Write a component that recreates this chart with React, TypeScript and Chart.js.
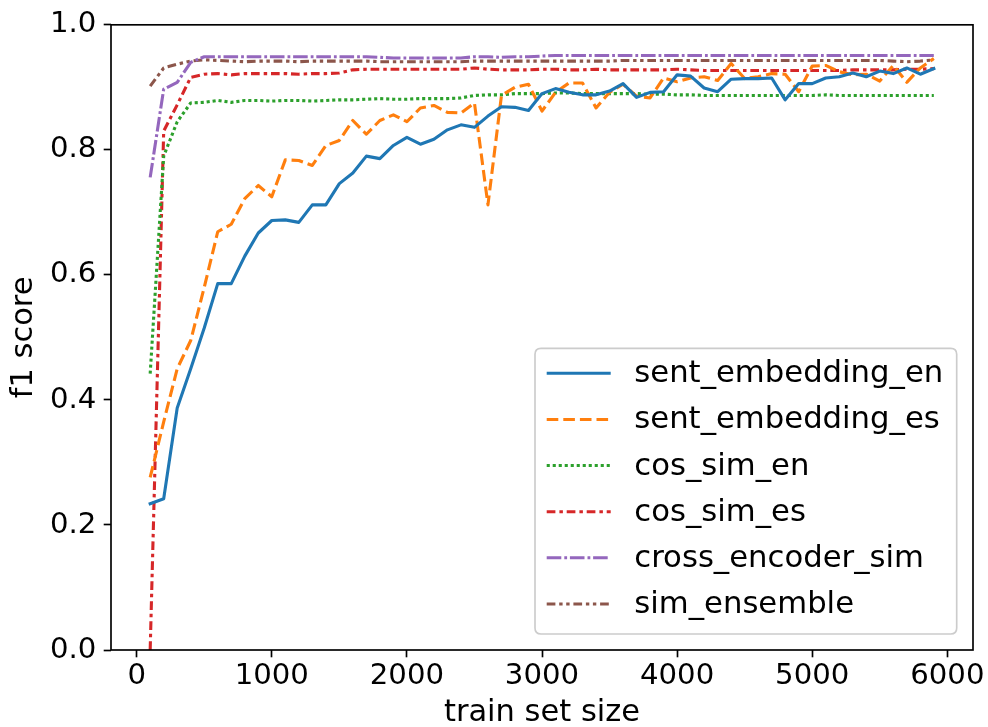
import React, { useEffect, useRef } from "react";
import { Chart, registerables } from "chart.js";

Chart.register(...registerables);

// ---- data ----
const X_VALUES = [
  100, 200, 300, 400, 500, 600, 700, 800, 900, 1000,
  1100, 1200, 1300, 1400, 1500, 1600, 1700, 1800, 1900, 2000,
  2100, 2200, 2300, 2400, 2500, 2600, 2700, 2800, 2900, 3000,
  3100, 3200, 3300, 3400, 3500, 3600, 3700, 3800, 3900, 4000,
  4100, 4200, 4300, 4400, 4500, 4600, 4700, 4800, 4900, 5000,
  5100, 5200, 5300, 5400, 5500, 5600, 5700, 5800, 5900,
];

const SENT_EMBEDDING_EN = [
  0.234, 0.242, 0.387, 0.450, 0.515, 0.586, 0.586, 0.630, 0.667, 0.687,
  0.688, 0.684, 0.712, 0.712, 0.746, 0.763, 0.790, 0.786, 0.807, 0.820,
  0.809, 0.817, 0.832, 0.840, 0.836, 0.854, 0.869, 0.868, 0.863, 0.890,
  0.898, 0.892, 0.888, 0.888, 0.894, 0.906, 0.884, 0.892, 0.893, 0.920,
  0.918, 0.899, 0.893, 0.913, 0.914, 0.914, 0.915, 0.880, 0.906, 0.906,
  0.915, 0.917, 0.923, 0.917, 0.926, 0.922, 0.931, 0.921, 0.930,
];

const SENT_EMBEDDING_ES = [
  0.276, 0.365, 0.450, 0.495, 0.580, 0.669, 0.681, 0.722, 0.743, 0.725,
  0.784, 0.783, 0.775, 0.807, 0.815, 0.847, 0.825, 0.847, 0.856, 0.845,
  0.867, 0.871, 0.860, 0.859, 0.875, 0.712, 0.887, 0.900, 0.905, 0.862,
  0.892, 0.907, 0.907, 0.867, 0.892, 0.905, 0.886, 0.883, 0.915, 0.909,
  0.915, 0.917, 0.911, 0.938, 0.914, 0.917, 0.922, 0.921, 0.893, 0.934,
  0.935, 0.925, 0.920, 0.921, 0.910, 0.935, 0.908, 0.931, 0.946,
];

const COS_SIM_EN = [
  0.442, 0.790, 0.845, 0.875, 0.876, 0.879, 0.876, 0.879, 0.879, 0.878,
  0.879, 0.879, 0.878, 0.879, 0.880, 0.880, 0.881, 0.882, 0.881, 0.881,
  0.882, 0.882, 0.882, 0.883, 0.887, 0.888, 0.888, 0.890, 0.890, 0.890,
  0.891, 0.891, 0.890, 0.890, 0.890, 0.890, 0.890, 0.889, 0.889, 0.888,
  0.888, 0.887, 0.887, 0.887, 0.887, 0.887, 0.887, 0.887, 0.887, 0.887,
  0.888, 0.887, 0.887, 0.887, 0.887, 0.887, 0.887, 0.887, 0.887,
];

const COS_SIM_ES = [
  0.000, 0.830, 0.872, 0.916, 0.921, 0.922, 0.920, 0.922, 0.922, 0.922,
  0.922, 0.921, 0.922, 0.922, 0.923, 0.928, 0.929, 0.929, 0.929, 0.929,
  0.929, 0.929, 0.929, 0.929, 0.931, 0.929, 0.928, 0.928, 0.928, 0.929,
  0.929, 0.928, 0.928, 0.929, 0.928, 0.928, 0.928, 0.928, 0.928, 0.929,
  0.928, 0.927, 0.927, 0.927, 0.927, 0.927, 0.927, 0.927, 0.927, 0.927,
  0.927, 0.927, 0.928, 0.928, 0.928, 0.928, 0.929, 0.929, 0.930,
];

const CROSS_ENCODER_SIM = [
  0.756, 0.897, 0.908, 0.940, 0.949, 0.949, 0.949, 0.949, 0.949, 0.949,
  0.949, 0.949, 0.949, 0.949, 0.949, 0.949, 0.949, 0.948, 0.947, 0.947,
  0.947, 0.947, 0.947, 0.947, 0.949, 0.949, 0.948, 0.949, 0.949, 0.950,
  0.951, 0.951, 0.951, 0.951, 0.951, 0.951, 0.951, 0.951, 0.951, 0.951,
  0.951, 0.951, 0.951, 0.951, 0.951, 0.951, 0.951, 0.951, 0.951, 0.951,
  0.951, 0.951, 0.951, 0.951, 0.951, 0.951, 0.951, 0.951, 0.951,
];

const SIM_ENSEMBLE = [
  0.902, 0.931, 0.937, 0.942, 0.944, 0.943, 0.942, 0.941, 0.942, 0.942,
  0.942, 0.941, 0.942, 0.942, 0.942, 0.942, 0.942, 0.941, 0.941, 0.941,
  0.941, 0.941, 0.941, 0.941, 0.942, 0.942, 0.942, 0.942, 0.942, 0.942,
  0.942, 0.942, 0.942, 0.942, 0.942, 0.943, 0.943, 0.943, 0.943, 0.943,
  0.943, 0.943, 0.943, 0.943, 0.943, 0.943, 0.943, 0.943, 0.943, 0.943,
  0.943, 0.943, 0.943, 0.943, 0.943, 0.942, 0.941, 0.942, 0.944,
];

const SERIES_NAMES = [
  "sent_embedding_en",
  "sent_embedding_es",
  "cos_sim_en",
  "cos_sim_es",
  "cross_encoder_sim",
  "sim_ensemble",
];

const X_TICKS = [0, 1000, 2000, 3000, 4000, 5000, 6000];
const Y_TICKS = [0.0, 0.2, 0.4, 0.6, 0.8, 1.0];
const X_TITLE = "train set size";
const Y_TITLE = "f1 score";

const FONT = "'DejaVu Sans', 'Liberation Sans', sans-serif";

export default function App() {
  const ref = useRef<HTMLCanvasElement | null>(null);

  useEffect(() => {
    if (!ref.current) return;
    const seriesValues = [
      SENT_EMBEDDING_EN,
      SENT_EMBEDDING_ES,
      COS_SIM_EN,
      COS_SIM_ES,
      CROSS_ENCODER_SIM,
      SIM_ENSEMBLE,
    ];
    const colors = ["#1f77b4", "#ff7f0e", "#2ca02c", "#d62728", "#9467bd", "#8c564b"];
    const dashes: number[][] = [
      [],
      [11.6, 5],
      [3.1, 2.9],
      [8.7, 4, 3.5, 3.8],
      [14.6, 3, 2.8, 2.8],
      [8.7, 3.8, 3.4, 3.6, 3.4, 3.8],
    ];

    const datasets = seriesValues.map((vals, i) => ({
      label: SERIES_NAMES[i],
      data: vals.map((v, j) => ({ x: X_VALUES[j], y: v })),
      borderColor: colors[i],
      backgroundColor: colors[i],
      borderWidth: 3.1,
      borderDash: dashes[i],
      borderCapStyle: i === 0 ? "square" : "butt",
      borderJoinStyle: "round",
      pointRadius: 0,
      tension: 0,
      fill: false,
      clip: 0,
    }));

    const framePlugin = {
      id: "mplFrame",
      afterDatasetsDraw(chart: any) {
        const { ctx, chartArea } = chart;
        ctx.save();
        ctx.strokeStyle = "#000";
        ctx.lineWidth = 1.67;
        ctx.setLineDash([]);
        ctx.strokeRect(
          chartArea.left,
          chartArea.top,
          chartArea.right - chartArea.left,
          chartArea.bottom - chartArea.top
        );
        ctx.restore();
      },
    };

    const legendPlugin = {
      id: "mplLegend",
      afterDraw(chart: any) {
        const { ctx, chartArea } = chart;
        const w = 421.7;
        const h = 285.7;
        const right = chartArea.right - 16.3;
        const bottom = chartArea.bottom - 16;
        const left = right - w;
        const top = bottom - h;
        const r = 6;
        ctx.save();
        ctx.beginPath();
        ctx.moveTo(left + r, top);
        ctx.lineTo(right - r, top);
        ctx.quadraticCurveTo(right, top, right, top + r);
        ctx.lineTo(right, bottom - r);
        ctx.quadraticCurveTo(right, bottom, right - r, bottom);
        ctx.lineTo(left + r, bottom);
        ctx.quadraticCurveTo(left, bottom, left, bottom - r);
        ctx.lineTo(left, top + r);
        ctx.quadraticCurveTo(left, top, left + r, top);
        ctx.closePath();
        ctx.fillStyle = "rgba(255,255,255,0.8)";
        ctx.fill();
        ctx.strokeStyle = "#cccccc";
        ctx.lineWidth = 1.67;
        ctx.stroke();

        chart.data.datasets.forEach((ds: any, i: number) => {
          const y = top + 25 + i * 46.13;
          ctx.beginPath();
          ctx.setLineDash(ds.borderDash || []);
          ctx.lineCap = "butt";
          ctx.strokeStyle = ds.borderColor;
          ctx.lineWidth = ds.borderWidth;
          ctx.moveTo(left + 11.7, y);
          ctx.lineTo(left + 75.7, y);
          ctx.stroke();
          ctx.setLineDash([]);
          ctx.fillStyle = "#000";
          ctx.font = `30.7px ${FONT}`;
          ctx.textBaseline = "middle";
          ctx.textAlign = "left";
          ctx.fillText(ds.label, left + 99.3, y + 1);
        });
        ctx.restore();
      },
    };

    const chart = new Chart(ref.current, {
      type: "line",
      data: { datasets: datasets as any },
      options: {
        animation: false,
        responsive: false,
        devicePixelRatio: 1,
        layout: { padding: { left: 0, right: 15, top: 20, bottom: 0 } },
        plugins: {
          legend: { display: false },
          tooltip: { enabled: false },
        },
        scales: {
          x: {
            type: "linear",
            min: -190,
            max: 6190,
            afterBuildTicks: (s: any) => {
              s.ticks = X_TICKS.map((v) => ({ value: v }));
            },
            afterFit: (s: any) => {
              s.height = 77;
            },
            grid: {
              display: true,
              drawOnChartArea: false,
              drawTicks: true,
              tickLength: 7.3,
              tickWidth: 1.67,
              tickColor: "#000",
              color: "#000",
            },
            border: { display: false },
            ticks: {
              color: "#000",
              font: { family: FONT, size: 29.2, lineHeight: 1.2 },
              padding: 1.2,
              maxRotation: 0,
              autoSkip: false,
              callback: (v: any) => String(v),
            },
            title: {
              display: true,
              text: X_TITLE,
              color: "#000",
              font: { family: FONT, size: 30.5, lineHeight: 0.9 },
              padding: { top: 0, bottom: 0 },
            },
          },
          y: {
            type: "linear",
            min: 0,
            max: 1,
            afterBuildTicks: (s: any) => {
              s.ticks = Y_TICKS.map((v) => ({ value: v }));
            },
            afterFit: (s: any) => {
              s.width = 111;
            },
            grid: {
              display: true,
              drawOnChartArea: false,
              drawTicks: true,
              tickLength: 7.3,
              tickWidth: 1.67,
              tickColor: "#000",
              color: "#000",
            },
            border: { display: false },
            ticks: {
              color: "#000",
              font: { family: FONT, size: 29.2, lineHeight: 1.2 },
              padding: 7.3,
              autoSkip: false,
              callback: (v: any) => Number(v).toFixed(1),
            },
            title: {
              display: true,
              text: Y_TITLE,
              color: "#000",
              font: { family: FONT, size: 30.5, lineHeight: 0.9 },
              padding: { top: 10.7, bottom: 0 },
            },
          },
        },
      } as any,
      plugins: [framePlugin, legendPlugin],
    });

    return () => chart.destroy();
  }, []);

  return (
    <div
      style={{
        position: "absolute",
        left: 0,
        top: 0,
        width: 988,
        height: 727,
        background: "#fff",
      }}
    >
      <canvas ref={ref} width={988} height={727} style={{ display: "block", width: 988, height: 727 }} />
    </div>
  );
}
